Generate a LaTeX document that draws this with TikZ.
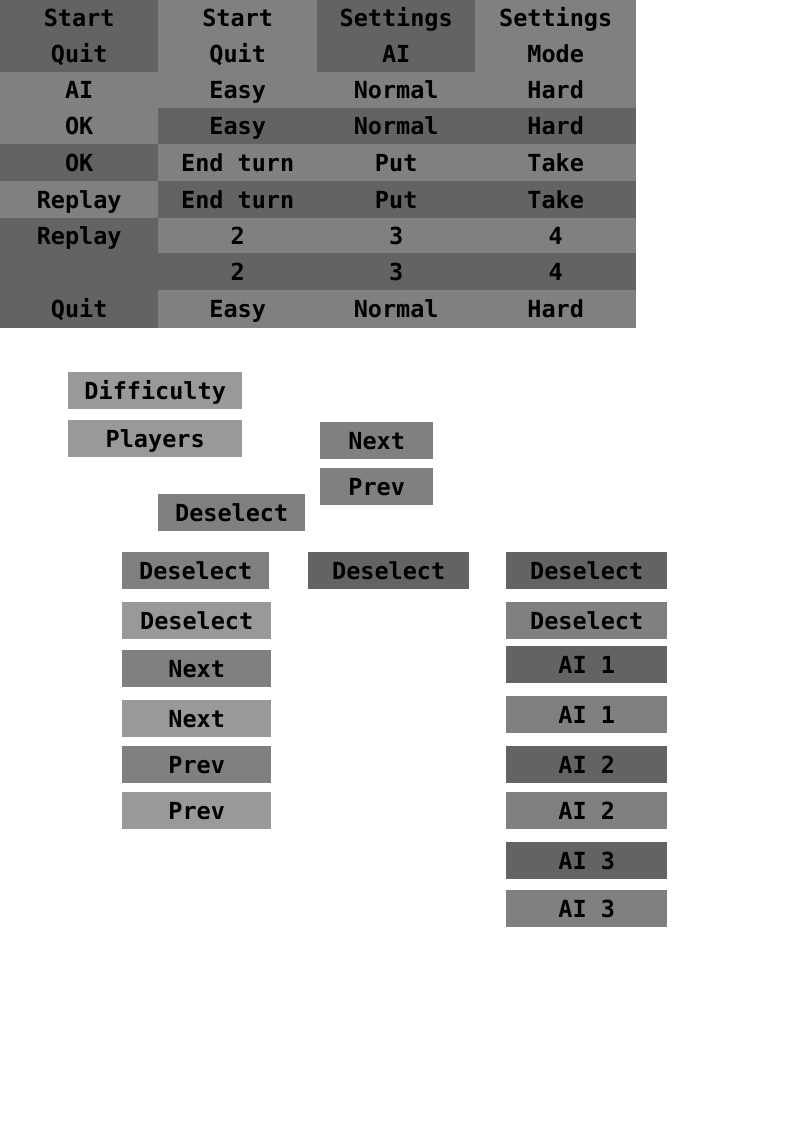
\documentclass[tikz,border=0pt]{standalone}
\usepackage{fontspec}
\newfontfamily\btnfont{DejaVu Sans Mono}
\usetikzlibrary{positioning}
\definecolor{BtnDark}{gray}{0.39}
\definecolor{BtnMid}{gray}{0.50}
\definecolor{BtnLight}{gray}{0.60}
\tikzset{
  Btn/.style = {
    fill = #1,
    anchor = north west,
    inner sep = 0pt,
    text height = 17pt,
    text depth = 0pt,
    font = \btnfont\bfseries\fontsize{23.5}{28}\selectfont,
  },
  BtnSmall/.style = {
    Btn = #1,
    minimum height = 37pt,
  }
}

\begin{document}
\begin{tikzpicture}[x=1pt, y=-1pt]
  \useasboundingbox (0,0) rectangle (794,1123);
  % sprite grid
  \foreach \n/\rowy/\rowh/\cells in {
      1/0/36/{BtnDark/Start,BtnMid/Start,BtnDark/Settings,BtnMid/Settings},
      2/36/36/{BtnDark/Quit,BtnMid/Quit,BtnDark/AI,BtnMid/Mode},
      3/72/36/{BtnMid/AI,BtnMid/Easy,BtnMid/Normal,BtnMid/Hard},
      4/108/36/{BtnMid/OK,BtnDark/Easy,BtnDark/Normal,BtnDark/Hard},
      5/144/37/{BtnDark/OK,BtnMid/End turn,BtnMid/Put,BtnMid/Take},
      6/181/37/{BtnMid/Replay,BtnDark/End turn,BtnDark/Put,BtnDark/Take},
      7/218/35/{BtnDark/Replay,BtnMid/2,BtnMid/3,BtnMid/4},
      8/253/37/{BtnDark/{},BtnDark/2,BtnDark/3,BtnDark/4},
      9/290/38/{BtnDark/Quit,BtnMid/Easy,BtnMid/Normal,BtnMid/Hard}} {
    \foreach \col/\txt [count=\i] in \cells {
      \pgfmathsetmacro\cx{{0,158,317,475}[\i-1]}
      \pgfmathsetmacro\cw{{158,159,158,161}[\i-1]}
      \node[Btn=\col, minimum width=\cw pt, minimum height=\rowh pt]
        (g\n-\i) at (\cx,\rowy) {\txt};
    }
  }
  % loose buttons
  \node[BtnSmall=BtnLight, minimum width=174pt] (difficulty) at (68,372) {Difficulty};
  \node[BtnSmall=BtnLight, minimum width=174pt] (players) at (68,420) {Players};
  \node[BtnSmall=BtnMid, minimum width=113pt] (next1) at (320,422) {Next};
  \node[BtnSmall=BtnMid, minimum width=113pt] (prev1) at (320,468) {Prev};
  \node[BtnSmall=BtnMid, minimum width=147pt] (desel1) at (158,494) {Deselect};
  \node[BtnSmall=BtnMid, minimum width=147pt] (desel2) at (122,552) {Deselect};
  \node[BtnSmall=BtnDark, minimum width=161pt] (desel3) at (308,552) {Deselect};
  \node[BtnSmall=BtnDark, minimum width=161pt] (desel4) at (506,552) {Deselect};
  \node[BtnSmall=BtnLight, minimum width=149pt] (desel5) at (122,602) {Deselect};
  \node[BtnSmall=BtnMid, minimum width=149pt] (next2) at (122,650) {Next};
  \node[BtnSmall=BtnLight, minimum width=149pt] (next3) at (122,700) {Next};
  \node[BtnSmall=BtnMid, minimum width=149pt] (prev2) at (122,746) {Prev};
  \node[BtnSmall=BtnLight, minimum width=149pt] (prev3) at (122,792) {Prev};
  \node[BtnSmall=BtnMid, minimum width=161pt] (desel6) at (506,602) {Deselect};
  \node[BtnSmall=BtnDark, minimum width=161pt] (ai1a) at (506,646) {AI 1};
  \node[BtnSmall=BtnMid, minimum width=161pt] (ai1b) at (506,696) {AI 1};
  \node[BtnSmall=BtnDark, minimum width=161pt] (ai2a) at (506,746) {AI 2};
  \node[BtnSmall=BtnMid, minimum width=161pt] (ai2b) at (506,792) {AI 2};
  \node[BtnSmall=BtnDark, minimum width=161pt] (ai3a) at (506,842) {AI 3};
  \node[BtnSmall=BtnMid, minimum width=161pt] (ai3b) at (506,890) {AI 3};
\end{tikzpicture}
\end{document}
